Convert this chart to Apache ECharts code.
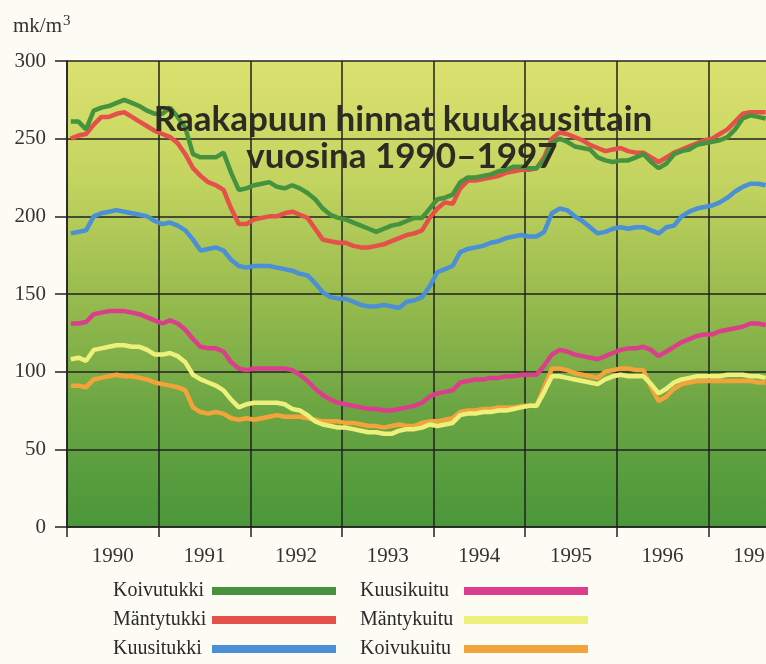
<!DOCTYPE html>
<html>
<head>
<meta charset="utf-8">
<script src="https://cdn.jsdelivr.net/npm/echarts@6/dist/echarts.min.js"></script>
<style>
html,body{margin:0;padding:0;background:#fcfbf4;overflow:hidden;width:766px;height:664px;}
#chart{width:820px;height:664px;}
</style>
</head>
<body>
<div id="chart"></div>
<script>
// Monthly values, Jan 1990 .. Aug 1997 (mk/m3)
const years = ['1990','1991','1992','1993','1994','1995','1996','1997'];
const seriesNames = ['Koivutukki','Mäntytukki','Kuusitukki','Kuusikuitu','Mäntykuitu','Koivukuitu'];
const koivutukki = [261,261,256,268,270,271,273,275,273,271,268,266,
  266,270,264,257,240,238,238,238,241,228,217,218,
  220,221,222,219,218,220,218,215,211,205,201,199,
  198,196,194,192,190,192,194,195,197,199,199,205,
  211,212,214,222,225,225,226,227,229,230,232,232,
  231,231,236,247,250,248,245,244,243,238,236,235,
  236,236,238,240,235,231,234,240,242,243,246,247,
  248,249,251,256,263,265,264,263];
const mantytukki = [250,252,253,259,264,264,266,267,264,261,258,255,
  253,251,247,240,231,226,222,220,217,205,195,195,
  198,199,200,200,202,203,201,199,192,185,184,183,
  183,181,180,180,181,182,184,186,188,189,191,199,
  205,209,208,218,223,223,224,225,226,228,229,230,
  230,231,238,250,254,253,251,249,246,244,242,243,
  244,242,241,241,238,235,238,241,243,245,247,249,
  250,253,256,261,266,267,267,267];
const kuusitukki = [189,190,191,200,202,203,204,203,202,201,200,197,
  195,196,194,191,185,178,179,180,178,172,168,167,
  168,168,168,167,166,165,163,162,157,151,148,147,
  147,145,143,142,142,143,142,141,145,146,148,155,
  164,166,168,177,179,180,181,183,184,186,187,188,
  187,187,190,202,205,204,200,197,193,189,190,192,
  193,192,193,193,191,189,193,194,200,203,205,206,
  207,209,212,216,219,221,221,220];
const kuusikuitu = [131,131,132,137,138,139,139,139,138,137,135,133,
  131,133,131,127,121,116,115,115,113,106,102,101,
  102,102,102,102,102,101,98,94,89,85,82,80,
  79,78,77,76,76,75,75,76,77,78,80,84,
  86,87,88,93,94,95,95,96,96,97,97,98,
  98,98,104,111,114,113,111,110,109,108,110,112,
  114,115,115,116,114,110,113,116,119,121,123,124,
  124,126,127,128,129,131,131,130];
const mantykuitu = [108,109,107,114,115,116,117,117,116,116,114,111,
  111,112,110,106,98,95,93,91,88,82,77,79,
  80,80,80,80,79,76,75,72,68,66,65,64,
  64,63,62,61,61,60,60,62,63,63,64,66,
  65,66,67,72,73,73,74,74,75,75,76,77,
  78,78,87,97,97,96,95,94,93,92,95,97,
  98,97,97,97,92,86,89,93,95,96,97,97,
  97,97,98,98,98,97,97,96];
const koivukuitu = [91,91,90,95,96,97,98,97,97,96,95,93,
  92,91,90,88,77,74,73,74,73,70,69,70,
  69,70,71,72,71,71,71,70,69,68,68,68,
  67,67,66,65,65,64,65,66,65,65,67,68,
  68,69,70,74,75,75,76,76,77,77,77,78,
  78,78,90,102,102,101,99,98,97,96,100,101,
  102,102,101,101,90,81,84,89,92,93,94,94,
  94,94,94,94,94,94,93,93];

const allValues = [koivutukki, mantytukki, kuusitukki, kuusikuitu, mantykuitu, koivukuitu];
const colors = ['#46933f','#e6504a','#4b8fd7','#db3f8c','#eef07c','#f2a43a'];

const chart = echarts.init(document.getElementById('chart'));
const toXY = arr => arr.map((v, i) => [i + 0.5, v]);
const yearStart = years.map((y, i) => i * 12);
const yearMid = years.map((y, i) => i * 12 + 6);

const series = seriesNames.map((name, k) => ({
  name: name,
  type: 'line',
  data: toXY(allValues[k]),
  showSymbol: false,
  symbol: 'none',
  lineStyle: { color: colors[k], width: 4.5 },
  itemStyle: { color: colors[k] },
  z: 3 + (5 - k),
  animation: false
}));

const legends = seriesNames.map((name, k) => {
  const col = k < 3 ? 0 : 1;
  const row = k % 3;
  return {
    data: [name],
    left: col === 0 ? 113 : 360,
    top: 581 + row * 29,
    orient: 'horizontal',
    align: 'right',
    icon: 'rect',
    itemWidth: 124,
    itemHeight: 8,
    selectedMode: false,
    padding: 0,
    formatter: n => '{a|' + n + '}',
    textStyle: {
      fontFamily: 'Liberation Serif', fontSize: 20, color: '#2a2a2a',
      rich: { a: { width: col === 0 ? 94 : 99, align: 'left', fontFamily: 'Liberation Serif', fontSize: 20, color: '#2a2a2a' } }
    }
  };
});

chart.setOption({
  backgroundColor: '#fcfbf4',
  animation: false,
  grid: {
    left: 67, top: 61, right: 20, bottom: 137,
    show: true,
    borderWidth: 0,
    backgroundColor: new echarts.graphic.LinearGradient(0, 0, 0, 1, [
      { offset: 0, color: '#dce16f' },
      { offset: 0.25, color: '#c4d460' },
      { offset: 0.5, color: '#99bc4e' },
      { offset: 0.75, color: '#6ba543' },
      { offset: 1, color: '#4a973a' }
    ])
  },
  xAxis: {
    type: 'value',
    min: 0,
    max: 96,
    interval: 12,
    axisLine: { show: true, lineStyle: { color: '#222', width: 1.5 } },
    axisTick: { show: true, length: 10, customValues: yearStart, lineStyle: { color: '#222', width: 1.5 } },
    splitLine: { show: true, lineStyle: { color: '#222', width: 1.5 } },
    axisLabel: {
      customValues: yearMid,
      formatter: v => String(1990 + Math.round((v - 6) / 12)),
      margin: 19,
      fontFamily: 'Liberation Serif',
      fontSize: 21,
      color: '#333'
    }
  },
  yAxis: {
    type: 'value',
    min: 0,
    max: 300,
    interval: 50,
    axisLine: { show: true, lineStyle: { color: '#222', width: 1.5 } },
    axisTick: { show: true, length: 12, lineStyle: { color: '#222', width: 1.5 } },
    splitLine: { show: true, lineStyle: { color: '#222', width: 1.5 } },
    axisLabel: {
      margin: 21,
      fontFamily: 'Liberation Serif',
      fontSize: 21,
      color: '#333'
    }
  },
  legend: legends,
  graphic: [
    {
      type: 'text', left: 13, top: 14, z: 10,
      style: {
        text: 'mk/m{sup|3}',
        fontFamily: 'Liberation Serif', fontSize: 21, fill: '#333',
        rich: { sup: { fontFamily: 'Liberation Serif', fontSize: 15, verticalAlign: 'top', padding: [0, 0, 10, 1] } }
      }
    },
    {
      type: 'text', x: 403, y: 120, z: 20,
      style: {
        text: 'Raakapuun hinnat kuukausittain',
        fontFamily: 'Lato', fontWeight: 'bold', fontSize: 35, fill: '#2c2c22',
        align: 'center', verticalAlign: 'middle'
      }
    },
    {
      type: 'text', x: 402, y: 157, z: 20,
      style: {
        text: 'vuosina 1990–1997',
        fontFamily: 'Lato', fontWeight: 'bold', fontSize: 35, fill: '#2c2c22',
        align: 'center', verticalAlign: 'middle'
      }
    }
  ],
  series: series
});
</script>
</body>
</html>
